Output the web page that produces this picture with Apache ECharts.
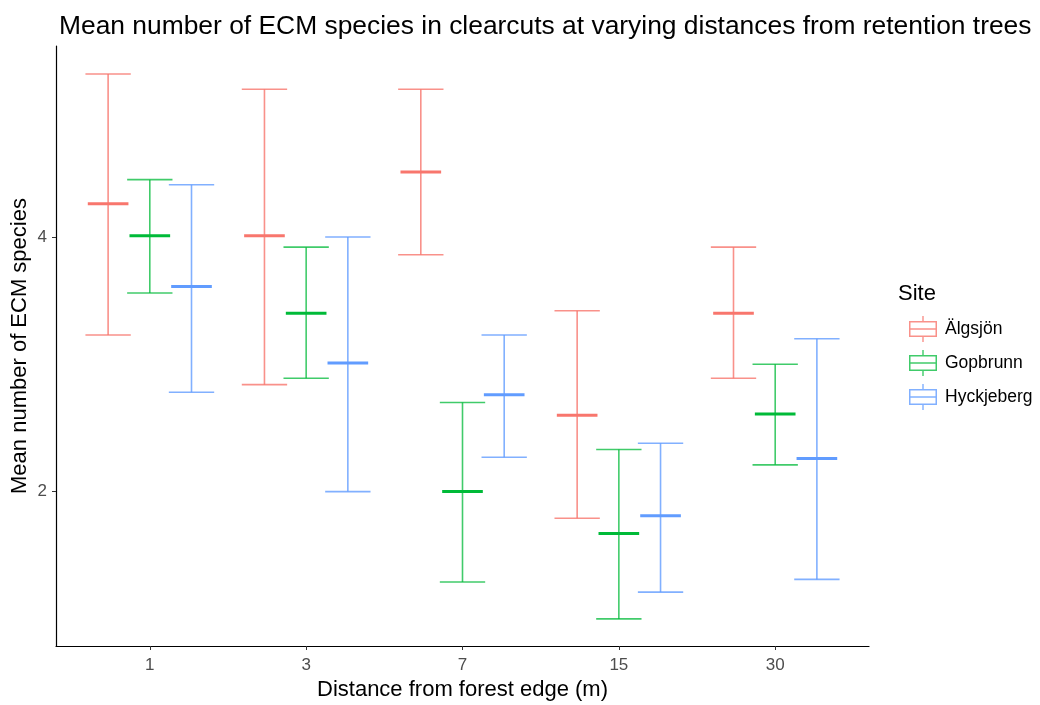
<!DOCTYPE html>
<html>
<head>
<meta charset="utf-8">
<script src="https://cdn.jsdelivr.net/npm/echarts@6/dist/echarts.min.js"></script>
<style>
html,body{margin:0;padding:0;background:#fff;}
#chart{width:1040px;height:705px;}
</style>
</head>
<body>
<div id="chart"></div>
<script>
// ---- data ----
var categories = ['1', '3', '7', '15', '30'];
var sites = ['Älgsjön', 'Gopbrunn', 'Hyckjeberg'];

var algsjonMean  = [4.26, 4.01, 4.51, 2.60, 3.40];
var algsjonLower = [3.23, 2.84, 3.86, 1.79, 2.89];
var algsjonUpper = [5.28, 5.16, 5.16, 3.42, 3.92];

var gopbrunnMean  = [4.01, 3.40, 2.00, 1.67, 2.61];
var gopbrunnLower = [3.56, 2.89, 1.29, 1.00, 2.21];
var gopbrunnUpper = [4.45, 3.92, 2.70, 2.33, 3.00];

var hyckjebergMean  = [3.61, 3.01, 2.76, 1.81, 2.26];
var hyckjebergLower = [2.78, 2.00, 2.27, 1.21, 1.31];
var hyckjebergUpper = [4.41, 4.00, 3.23, 2.38, 3.20];

var yTicks = [2, 4];

// ---- styles ----
var solidColors = ['#F8766D', '#00BA38', '#619CFF'];
var barColors = ['rgba(248,118,109,0.8)', 'rgba(0,186,56,0.75)', 'rgba(97,156,255,0.8)'];
var dodge = 0.8 / 3;
var capWidth = 0.29;
var meanWidth = 0.26;

function buildData(mean, lower, upper) {
  return categories.map(function (c, i) {
    return [i + 1, lower[i], mean[i], upper[i]];
  });
}
var seriesData = [
  buildData(algsjonMean, algsjonLower, algsjonUpper),
  buildData(gopbrunnMean, gopbrunnLower, gopbrunnUpper),
  buildData(hyckjebergMean, hyckjebergLower, hyckjebergUpper)
];

var legendIcon = 'path://M13.3,0h1.4v5h-1.4z M0,5h28v1.5h-28z M0,19.5h28v1.5h-28z M0,5h1.5v16h-1.5z M26.5,5h1.5v16h-1.5z M0,12.25h28v1.5h-28z M13.3,21h1.4v5h-1.4z';

function makeRender(k) {
  var offset = (k - 1) * dodge;
  return function (params, api) {
    var x = api.value(0) + offset;
    var lo = api.coord([x, api.value(1)]);
    var mid = api.coord([x, api.value(2)]);
    var hi = api.coord([x, api.value(3)]);
    var unit = api.size([1, 0])[0];
    var capHalf = unit * capWidth / 2;
    var meanHalf = unit * meanWidth / 2;
    var thin = { stroke: barColors[k], lineWidth: 1.6, fill: null };
    var thick = { stroke: solidColors[k], lineWidth: 3, fill: null };
    return {
      type: 'group',
      children: [
        { type: 'line', shape: { x1: lo[0], y1: lo[1], x2: hi[0], y2: hi[1] }, style: thin },
        { type: 'line', shape: { x1: hi[0] - capHalf, y1: hi[1], x2: hi[0] + capHalf, y2: hi[1] }, style: thin },
        { type: 'line', shape: { x1: lo[0] - capHalf, y1: lo[1], x2: lo[0] + capHalf, y2: lo[1] }, style: thin },
        { type: 'line', shape: { x1: mid[0] - meanHalf, y1: mid[1], x2: mid[0] + meanHalf, y2: mid[1] }, style: thick }
      ]
    };
  };
}

var chart = echarts.init(document.getElementById('chart'), null, { renderer: 'canvas' });
var fontFam = '"Liberation Sans", Arial, sans-serif';

var option = {
  animation: false,
  backgroundColor: '#ffffff',
  title: [
    {
      text: 'Mean number of ECM species in clearcuts at varying distances from retention trees',
      left: 54, top: 9,
      textStyle: { fontFamily: fontFam, fontSize: 26.4, fontWeight: 'normal', color: '#000' }
    },
    {
      text: 'Site',
      left: 893, top: 278,
      textStyle: { fontFamily: fontFam, fontSize: 22, fontWeight: 'normal', color: '#000' }
    }
  ],
  legend: {
    orient: 'vertical',
    left: 904, top: 311,
    itemWidth: 28, itemHeight: 26, itemGap: 8,
    data: sites.map(function (s) { return { name: s, icon: legendIcon }; }),
    textStyle: { fontFamily: fontFam, fontSize: 17.5, color: '#000', padding: [0, 0, 0, 3] }
  },
  grid: { left: 56, right: 171, top: 46, bottom: 59, containLabel: false, outerBoundsMode: 'none' },
  xAxis: {
    type: 'value',
    min: 0.4, max: 5.6,
    name: 'Distance from forest edge (m)',
    nameLocation: 'middle', nameGap: 32,
    nameTextStyle: { fontFamily: fontFam, fontSize: 22, color: '#000' },
    axisLine: { show: true, onZero: false, lineStyle: { color: '#000', width: 1.2 } },
    axisTick: { show: true, length: 4, lineStyle: { color: '#333' }, customValues: [1, 2, 3, 4, 5] },
    axisLabel: {
      customValues: [1, 2, 3, 4, 5],
      margin: 11,
      fontFamily: fontFam, fontSize: 17, color: '#4D4D4D',
      formatter: function (v) { return categories[Math.round(v) - 1] || ''; }
    },
    splitLine: { show: false }
  },
  yAxis: {
    type: 'value',
    min: 0.787, max: 5.50,
    name: 'Mean number of ECM species',
    nameLocation: 'middle', nameGap: 25, nameMoveOverlap: false,
    nameTextStyle: { fontFamily: fontFam, fontSize: 22, color: '#000' },
    axisLine: { show: true, onZero: false, lineStyle: { color: '#000', width: 1.2 } },
    axisTick: { show: true, length: 4, lineStyle: { color: '#333' }, customValues: yTicks },
    axisLabel: {
      customValues: yTicks,
      margin: 9,
      fontFamily: fontFam, fontSize: 17, color: '#4D4D4D'
    },
    splitLine: { show: false }
  },
  series: sites.map(function (s, k) {
    return {
      type: 'custom',
      name: s,
      renderItem: makeRender(k),
      itemStyle: { color: barColors[k] },
      encode: { x: 0, y: [1, 2, 3] },
      data: seriesData[k]
    };
  })
};
chart.setOption(option);
</script>
</body>
</html>
